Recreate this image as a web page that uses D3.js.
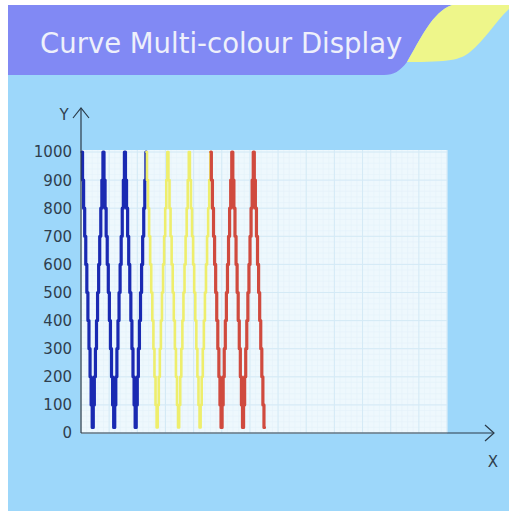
<!DOCTYPE html>
<html>
<head>
<meta charset="utf-8">
<script src="https://cdn.jsdelivr.net/npm/d3@7"></script>
<style>
  html, body { margin: 0; padding: 0; background: #ffffff; }
  svg { display: block; }
</style>
</head>
<body>
<svg id="chart" width="510" height="513"></svg>
<script>
// ---- data ----
const titleText = "Curve Multi-colour Display";
const yTicks = [0, 100, 200, 300, 400, 500, 600, 700, 800, 900, 1000];
const seriesNames = ["blue", "yellow", "red"];
const seriesColors = ["#1a2ab2", "#eeee6c", "#d04a3e"];
const blueStart = 0;
const blueValues = [1000,900,800,700,600,500,400,300,200,100,20,100,200,300,400,500,600,700,800,900,
                    1000,900,800,700,600,500,400,300,200,100,20,100,200,300,400,500,600,700,800,900,
                    1000,900,800,700,600,500,400,300,200,100,20,100,200,300,400,500,600,700,800,900,1000];
const yellowStart = 60;
const yellowValues = [1000,900,800,700,600,500,400,300,200,100,20,100,200,300,400,500,600,700,800,900,
                      1000,900,800,700,600,500,400,300,200,100,20,100,200,300,400,500,600,700,800,900,
                      1000,900,800,700,600,500,400,300,200,100,20,100,200,300,400,500,600,700,800,900,1000];
const redStart = 120;
const redValues = [1000,900,800,700,600,500,400,300,200,100,20,100,200,300,400,500,600,700,800,900,
                   1000,900,800,700,600,500,400,300,200,100,20,100,200,300,400,500,600,700,800,900,
                   1000,900,800,700,600,500,400,300,200,100,20];
const xMax = 340;        // sample index at right edge of plot
const gridMax = 1300;    // square grid units across plot width

// ---- layout ----
const svg = d3.select("#chart");
const plot = { left: 81, right: 447, top: 150, bottom: 433 };

// background
svg.append("rect").attr("x", 8).attr("y", 5).attr("width", 501).attr("height", 506).attr("fill", "#9dd7fa");

// banner
svg.append("path")
  .attr("d", "M8,5 H452 C432,12 420,40 407,62 C400,71 394,75 384,75 H8 Z")
  .attr("fill", "#8189f4");
svg.append("path")
  .attr("d", "M452,5 H509 V9 C495,22 485,40 470,52 C460,60 450,62 407,62 C420,40 432,12 452,5 Z")
  .attr("fill", "#eef68a");
svg.append("text")
  .attr("x", 40).attr("y", 53)
  .attr("font-family", "DejaVu Sans, sans-serif")
  .attr("font-size", 27.5)
  .attr("fill", "#eef0fb")
  .text(titleText);

// scales
const y = d3.scaleLinear().domain([0, 1000]).range([433, 152]);
const x = d3.scaleLinear().domain([0, xMax]).range([82, plot.right]);
const gx = d3.scaleLinear().domain([0, gridMax]).range([plot.left, plot.right]);

// plot area
svg.append("rect")
  .attr("x", plot.left).attr("y", plot.top)
  .attr("width", plot.right - plot.left).attr("height", plot.bottom - plot.top)
  .attr("fill", "#eef8fd");

const grid = svg.append("g");
const minorY = d3.range(0, 1001, 20);
const minorX = d3.range(0, gridMax + 1, 20);
grid.selectAll(".mh").data(minorY).join("line")
  .attr("x1", plot.left).attr("x2", plot.right)
  .attr("y1", d => y(d)).attr("y2", d => y(d))
  .attr("stroke", "#e4f2fa").attr("stroke-width", 0.6);
grid.selectAll(".mv").data(minorX).join("line")
  .attr("y1", plot.top).attr("y2", plot.bottom)
  .attr("x1", d => gx(d)).attr("x2", d => gx(d))
  .attr("stroke", "#e4f2fa").attr("stroke-width", 0.6);
grid.selectAll(".Mh").data(yTicks).join("line")
  .attr("x1", plot.left).attr("x2", plot.right)
  .attr("y1", d => y(d)).attr("y2", d => y(d))
  .attr("stroke", "#d4eaf6").attr("stroke-width", 1);
grid.selectAll(".Mv").data(d3.range(0, gridMax + 1, 100)).join("line")
  .attr("y1", plot.top).attr("y2", plot.bottom)
  .attr("x1", d => gx(d)).attr("x2", d => gx(d))
  .attr("stroke", "#d4eaf6").attr("stroke-width", 1);

// lines
const line = d3.line()
  .x(d => x(d.i))
  .y(d => y(d.v))
  .curve(d3.curveStep);
const all = [
  { start: blueStart, values: blueValues, color: seriesColors[0], w: 3.2 },
  { start: yellowStart, values: yellowValues, color: seriesColors[1], w: 2.6 },
  { start: redStart, values: redValues, color: seriesColors[2], w: 3.2 }
];
all.forEach(s => {
  const pts = s.values.map((v, k) => ({ i: s.start + k, v }));
  svg.append("path").datum(pts)
    .attr("d", line)
    .attr("fill", "none")
    .attr("stroke", s.color)
    .attr("stroke-width", s.w)
    .attr("stroke-linejoin", "round")
    .attr("stroke-linecap", "round");
});

// axes
const axisColor = "#2b3a48";
svg.append("line").attr("x1", plot.left).attr("x2", plot.left).attr("y1", 433).attr("y2", 108)
  .attr("stroke", axisColor).attr("stroke-width", 1.2);
svg.append("path").attr("d", "M73,118 L81,108 L89,118").attr("fill", "none")
  .attr("stroke", axisColor).attr("stroke-width", 1.2);
svg.append("line").attr("x1", plot.left).attr("x2", 494).attr("y1", 433).attr("y2", 433)
  .attr("stroke", axisColor).attr("stroke-width", 1.2);
svg.append("path").attr("d", "M485,425 L494,433 L485,441").attr("fill", "none")
  .attr("stroke", axisColor).attr("stroke-width", 1.2);

svg.append("g").selectAll("text").data(yTicks).join("text")
  .attr("x", 72).attr("y", d => y(d))
  .attr("dy", "0.36em")
  .attr("text-anchor", "end")
  .attr("font-family", "DejaVu Sans, sans-serif")
  .attr("font-size", 15)
  .attr("fill", "#2f3f4e")
  .text(d => d);

svg.append("text").attr("x", 64).attr("y", 115).attr("dy", "0.36em").attr("text-anchor", "middle")
  .attr("font-family", "DejaVu Sans, sans-serif").attr("font-size", 15).attr("fill", "#2f3f4e").text("Y");
svg.append("text").attr("x", 493).attr("y", 462).attr("dy", "0.36em").attr("text-anchor", "middle")
  .attr("font-family", "DejaVu Sans, sans-serif").attr("font-size", 15).attr("fill", "#2f3f4e").text("X");
</script>
</body>
</html>
